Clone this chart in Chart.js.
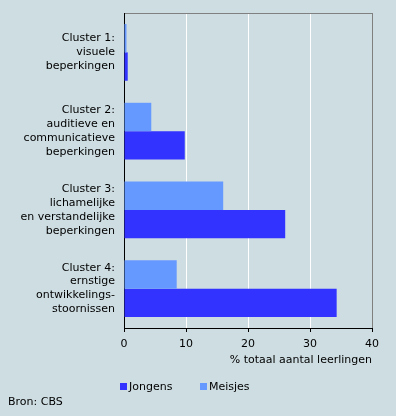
<!DOCTYPE html>
<html>
<head>
<meta charset="utf-8">
<script src="https://cdn.jsdelivr.net/npm/chart.js@4/dist/chart.umd.min.js"></script>
<style>
  html, body { margin: 0; padding: 0; background: #cedde2; }
  #wrap { width: 396px; height: 416px; background: #cedde2; }
</style>
</head>
<body>
<div id="wrap"><canvas id="c" width="396" height="416"></canvas></div>
<script>
const categories = [
  ["Cluster 1:", "visuele", "beperkingen"],
  ["Cluster 2:", "auditieve en", "communicatieve", "beperkingen"],
  ["Cluster 3:", "lichamelijke", "en verstandelijke", "beperkingen"],
  ["Cluster 4:", "ernstige", "ontwikkelings-", "stoornissen"]
];
const jongens = [0.6, 9.8, 26.0, 34.3];
const meisjes = [0.4, 4.4, 16.0, 8.5];
const xTicks = [0, 10, 20, 30, 40];
const axisTitle = "% totaal aantal leerlingen";
const source = "Bron: CBS";

Chart.defaults.font.family = '"DejaVu Sans", Verdana, sans-serif';
Chart.defaults.font.size = 11;
Chart.defaults.color = '#000';

const FONT = '11px "DejaVu Sans", Verdana, sans-serif';

const extras = {
  id: 'extras',
  afterDraw(chart) {
    const ctx = chart.ctx;
    ctx.save();
    ctx.font = FONT;
    ctx.fillStyle = '#000';
    ctx.textBaseline = 'middle';
    // legend: Jongens first, then Meisjes
    const order = [1, 0];
    const xs = [120, 200];
    order.forEach((di, i) => {
      const ds = chart.data.datasets[di];
      ctx.fillStyle = ds.backgroundColor;
      ctx.fillRect(xs[i], 383, 7, 7);
      ctx.fillStyle = '#000';
      ctx.textAlign = 'left';
      ctx.fillText(ds.label, xs[i] + 9, 387);
    });
    ctx.fillText(source, 8, 402);
    ctx.restore();
  }
};

new Chart(document.getElementById('c'), {
  type: 'bar',
  data: {
    labels: categories,
    datasets: [
      { label: 'Meisjes', data: meisjes, backgroundColor: '#6699ff', borderWidth: 0 },
      { label: 'Jongens', data: jongens, backgroundColor: '#3333ff', borderWidth: 0 }
    ]
  },
  plugins: [extras],
  options: {
    indexAxis: 'y',
    responsive: false,
    animation: false,
    layout: { padding: { left: 0, right: 24, top: 13, bottom: 48 } },
    datasets: { bar: { categoryPercentage: 0.72, barPercentage: 1.0 } },
    plugins: {
      legend: { display: false },
      tooltip: { enabled: false }
    },
    scales: {
      x: {
        type: 'linear',
        position: 'bottom',
        min: 0,
        max: 40,
        afterBuildTicks(scale) { scale.ticks = xTicks.map(v => ({ value: v })); },
        afterFit(scale) { scale.height = 40; scale.paddingLeft = 0; scale.paddingRight = 0; },
        ticks: { color: '#000', padding: 6, font: { size: 11 } },
        grid: {
          color: (c) => c.tick && c.tick.value === 40 ? '#808080' : (c.tick && c.tick.value === 0 ? 'rgba(0,0,0,0)' : '#ffffff'),
          tickColor: '#000',
          tickLength: 4,
          lineWidth: 1
        },
        border: { color: '#000', width: 1 },
        title: {
          display: true,
          text: axisTitle,
          align: 'end',
          color: '#000',
          font: { size: 11 },
          padding: { top: 0, bottom: 1 }
        }
      },
      x2: {
        type: 'linear',
        position: 'top',
        min: 0,
        max: 40,
        ticks: { display: false },
        grid: { display: false, drawTicks: false },
        border: { color: '#808080', width: 1 },
        afterFit(scale) { scale.height = 0; scale.paddingLeft = 0; scale.paddingRight = 0; }
      },
      y: {
        type: 'category',
        afterFit(scale) { scale.width = 124; scale.paddingTop = 0; scale.paddingBottom = 0; },
        ticks: { color: '#000', padding: 9, font: { size: 11, lineHeight: 1.27 } },
        grid: { display: false, drawTicks: false },
        border: { color: '#000', width: 1 }
      }
    }
  }
});
</script>
</body>
</html>
